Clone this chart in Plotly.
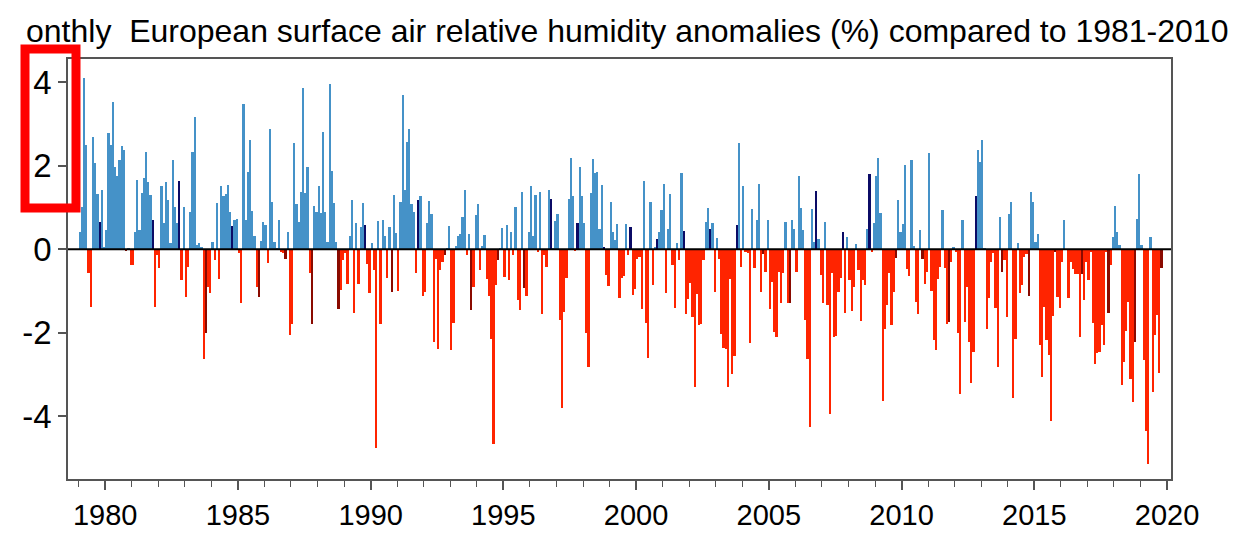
import plotly.graph_objects as go

# Monthly anomalies (%), Jan 1979 - Oct 2019
anom_1979_1988 = [
    0.4, 1.0, 4.1, 2.5, -0.58, -1.38, 2.69, 2.06, 1.32, 0.66, 1.42, 0.06,
    0.46, 2.78, 2.5, 3.53, 1.97, 1.74, 2.14, 2.48, 2.38, -0.04, 0.02, -0.38,
    -0.38, 0.4, 1.66, 0.46, 1.34, 1.7, 2.32, 1.6, 1.3, 0.69, -1.38, -0.14,
    -0.46, 1.52, 0.62, 1.6, 1.17, 0.14, 2.13, 1.0, 0.62, 1.62, -0.74, 1.0,
    -1.14, -0.42, 0.9, 2.32, 3.17, 0.1, 0.14, 0.06, -2.62, -2.0, -0.9, -1.05,
    0.18, -0.26, 1.1, -0.72, 1.52, 1.26, 1.33, 1.54, 0.9, 0.56, 0.69, 0.72,
    -0.1, -1.3, 3.48, 0.7, 1.85, 2.6, 0.92, 0.32, -0.9, -1.14, 0.2, 0.66,
    0.58, -0.32, 2.88, 1.14, 0.16, 0.02, 0.69, -0.08, -0.1, -0.24, 0.41, -2.05,
    -1.78, 2.53, 1.08, 0.64, 1.36, 3.86, 1.34, 1.97, -0.56, -1.79, 1.04, 0.9,
    1.52, 0.86, 2.81, 0.89, 0.18, 3.96, 1.86, 1.1, 0.16, -1.44, -0.98, -0.27,
]
anom_1989_1998 = [
    -0.1, -0.83, 0.32, 1.17, -1.53, 0.62, -0.83, 0.52, 1.1, 0.58, -0.35, -1.06,
    0.14, -0.5, -4.76, 0.68, -1.79, 0.69, 0.32, -0.7, 0.53, -1.02, 1.29, 0.38,
    -0.99, 1.12, 3.7, 1.41, 2.57, 2.88, 1.08, 0.89, -0.58, 1.18, 1.28, -1.11,
    -1.02, 0.62, 1.16, 0.85, -2.22, -0.24, -2.38, -0.51, -0.3, -0.14, 0.02, 0.56,
    -2.42, -1.76, 0.08, 0.32, 0.37, 0.77, 1.41, -0.14, 0.36, -1.46, -0.9, 0.81,
    1.09, -0.51, 0.08, 0.34, -0.72, -1.12, -2.14, -4.66, -0.86, -0.26, 0.02, 0.5,
    -0.66, 0.58, -0.74, 0.4, -0.14, 1.0, -1.22, -1.46, 1.36, -0.94, -1.11, 0.42,
    1.52, 0.32, 1.3, -0.08, 1.37, -1.56, -0.14, -0.43, 1.42, 1.21, 0.02, 0.68,
    0.84, -1.7, -3.8, -1.5, -0.7, 1.2, 2.18, 1.26, -0.04, 0.62, 1.97, 1.28,
    0.62, -2.0, -2.82, 1.34, 2.16, 1.82, 1.85, 0.49, 1.54, 0.05, -0.62, -0.88,
]
anom_1999_2008 = [
    1.13, 0.4, 0.22, 0.6, -1.18, -0.7, -0.64, 0.6, -0.14, 0.52, -1.1, -0.96,
    -0.24, -0.19, -1.44, 1.62, -1.76, -2.6, 1.14, -0.86, 0.06, 0.24, 0.4, 0.93,
    1.57, -1.06, 0.48, 1.32, -0.38, -1.42, 0.14, -0.26, 1.82, 0.44, -1.55, -1.2,
    -0.82, -1.62, -3.3, -1.07, -1.82, -1.8, -0.26, 0.64, 0.98, 0.48, 0.62, -1.03,
    0.26, -0.24, -2.03, -2.36, -2.38, -3.3, -0.72, -2.98, -2.56, 0.57, 2.54, -0.43,
    1.52, -0.06, -0.1, -2.24, 0.96, -0.46, 0.69, 1.57, -1.02, -0.11, -0.54, 0.69,
    -1.44, -0.78, -1.98, -2.11, -0.54, -1.3, -0.58, 0.66, -1.3, -1.3, 0.69, 0.48,
    -0.54, 1.76, 0.98, 0.45, -1.7, -2.62, -4.26, 0.96, 0.16, 1.4, 0.24, -0.62,
    -1.3, 0.66, -1.34, -3.94, -0.58, -2.11, -2.08, -1.02, -0.7, 0.42, -1.52, 0.29,
    -0.75, -1.47, -0.91, 0.13, -0.5, -1.71, -0.74, -0.86, 0.48, 1.81, -0.06, 0.62,
]
anom_2009_2019 = [
    1.76, 2.18, 0.86, -3.63, -1.9, -1.33, -0.56, -1.82, -1.02, -0.22, 1.17, 0.4,
    0.6, 2.02, -0.48, -0.64, 2.14, 0.08, -1.26, -1.56, 0.46, -0.24, -0.83, -0.54,
    2.29, -0.99, -2.18, -2.42, -0.72, -0.42, 0.94, -0.46, -1.78, -1.74, -0.3, 0.05,
    -0.06, -2.0, -3.46, 0.7, -1.74, -0.9, -2.22, -3.2, -2.46, 1.26, 2.37, 2.08,
    2.62, 0.03, -1.9, -1.18, -0.3, -0.1, -1.4, -2.83, 0.77, -0.54, -0.27, -1.62,
    0.84, 1.12, -3.55, -2.16, 0.14, -1.04, -0.86, -0.18, -0.12, -1.12, 1.36, 1.14,
    0.16, 0.37, -2.3, -3.06, -1.39, -2.18, -2.54, -4.11, -1.6, -0.08, -1.14, -1.42,
    -0.3, 0.7, -0.02, -1.18, -0.3, -0.48, -0.59, -0.59, -2.11, -0.59, -1.22, -0.3,
    -0.74, -0.06, -1.76, -2.76, -2.48, -2.45, -1.82, -2.3, -0.06, -1.52, -0.38, 0.3,
    1.04, 0.42, 0.1, -3.26, -2.7, -1.95, -1.26, -3.1, -3.66, -2.22, 0.72, 1.8,
    0.1, -2.66, -4.35, -5.14, 0.29, -3.42, -2.06, -1.58, -2.96, -0.46,
]

start_year = 1979
highlight_month = 10  # October bars drawn darker
x_tick_years = [1980, 1985, 1990, 1995, 2000, 2005, 2010, 2015, 2020]
x_tick_labels = ["1980", "1985", "1990", "1995", "2000", "2005", "2010", "2015", "2020"]
y_tick_values = [-4, -2, 0, 2, 4]
y_tick_labels = ["-4", "-2", "0", "2", "4"]
title_text = "onthly\u00a0 European surface air relative humidity anomalies (%) compared to 1981-2010"

values = anom_1979_1988 + anom_1989_1998 + anom_1999_2008 + anom_2009_2019
months = list(range(len(values)))
xs = [start_year + (m + 0.5) / 12 for m in months]

BLUE, NAVY, RED, DARKRED = "#4592c8", "#0b0b66", "#ff2400", "#8a0a00"
colors = []
for m, v in zip(months, values):
    hl = (m % 12) + 1 == highlight_month
    if v >= 0:
        colors.append(NAVY if hl else BLUE)
    else:
        colors.append(DARKRED if hl else RED)

fig = go.Figure(go.Bar(x=xs, y=values, width=1 / 12, marker=dict(color=colors, line=dict(width=0))))

W, H = 1255, 533
L, R, T, B = 68, 1171, 59, 479
font_main = "Liberation Sans Narrow, Arial Narrow, Liberation Sans, Arial, sans-serif"

def px_x(p):
    return (p - L) / (R - L)

def px_y(p):
    return (B - p) / (B - T)

fig.update_layout(
    width=W, height=H,
    margin=dict(l=L, r=W - R, t=T, b=H - B, autoexpand=False),
    plot_bgcolor="white", paper_bgcolor="white",
    bargap=0, showlegend=False,
    font=dict(family=font_main, color="black"),
    xaxis=dict(
        range=[1978.6, 2020.15], tickvals=x_tick_years, ticktext=x_tick_labels,
        ticks="outside", ticklen=9, tickwidth=1.5, tickcolor="#555",
        minor=dict(dtick=1, tick0=1979, ticks="outside", ticklen=6, tickwidth=1, tickcolor="#555"),
        showgrid=False, zeroline=False, showline=True, mirror=True, automargin=False,
        linecolor="#555", linewidth=1.5, tickfont=dict(size=29, family=font_main),
    ),
    yaxis=dict(
        range=[-5.5, 4.55], tickvals=y_tick_values, ticktext=y_tick_labels,
        ticks="outside", ticklen=8, tickwidth=1.5, tickcolor="#555",
        showgrid=False, zeroline=False, showline=True, mirror=True, automargin=False,
        linecolor="#555", linewidth=1.5, tickfont=dict(size=33, family=font_main),
    ),
    shapes=[
        dict(type="line", xref="paper", yref="y", x0=0, x1=1, y0=0, y1=0,
             line=dict(color="black", width=2), layer="above"),
        dict(type="rect", xref="paper", yref="paper",
             x0=px_x(25), x1=px_x(76), y0=px_y(208), y1=px_y(49),
             line=dict(color="#ff0000", width=9), fillcolor="rgba(0,0,0,0)", layer="above"),
    ],
    annotations=[
        dict(text=title_text, xref="paper", yref="paper", x=px_x(24), y=px_y(31),
             xanchor="left", yanchor="middle", showarrow=False,
             font=dict(size=32, family=font_main, color="black")),
    ],
)

fig.write_html("out.html")
